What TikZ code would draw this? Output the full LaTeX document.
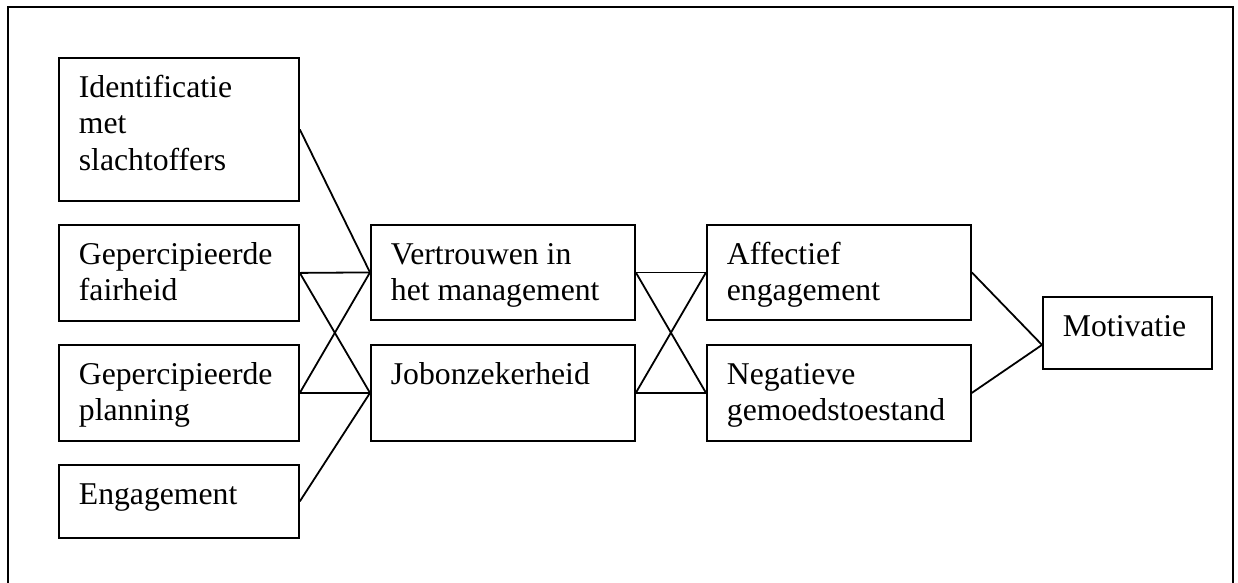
\documentclass[tikz,border=0pt]{standalone}
\usepackage{fontspec}
\setmainfont{Liberation Serif}
\begin{document}
\begin{tikzpicture}[x=1pt,y=-1pt,
  line width=1.8pt,
  box/.style={draw, rectangle, anchor=north west, inner sep=0pt, line width=1.8pt},
  lbl/.style={anchor=base west, inner sep=0pt, font=\fontsize{31.7}{36.5}\selectfont},
  conn/.style={draw, line width=1.8pt}]
\useasboundingbox (0,0) rectangle (1238,582);
\fill[white] (0,0) rectangle (1238,582);
% outer frame
\draw (8,600) -- (8,7) -- (1233,7) -- (1233,600);
% boxes: name, x1,y1,x2,y2
\newcommand{\mkbox}[6]{%
  \node[box, minimum width=#4-#2, minimum height=#5-#3] (#1) at (#2,#3) {};
  \node[lbl] (#1-t) at (#2+20,#3+40) {\begin{tabular}[t]{@{}l@{}}#6\end{tabular}};}
\mkbox{ident}{58}{57}{298}{200}{Identificatie\\met\\slachtoffers}
\mkbox{fair}{58}{224}{298}{320}{Gepercipieerde\\fairheid}
\mkbox{plan}{58}{344}{298}{440}{Gepercipieerde\\planning}
\mkbox{eng}{58}{464}{298}{537}{Engagement}
\mkbox{vert}{370}{224}{634}{319}{Vertrouwen in\\het management}
\mkbox{job}{370}{344}{634}{440}{Jobonzekerheid}
\mkbox{aff}{706}{224}{970}{319}{Affectief\\engagement}
\mkbox{neg}{706}{344}{970}{440}{Negatieve\\gemoedstoestand}
\mkbox{mot}{1042}{296}{1211}{368}{Motivatie}
\coordinate (motin) at ([yshift=-12pt]mot.west);
% connectors
\draw[conn] (ident.east) -- (vert.west);
\draw[conn] (fair.east) -- (vert.west);
\draw[conn] (fair.east) -- (job.west);
\draw[conn] (plan.east) -- (vert.west);
\draw[conn] (plan.east) -- (job.west);
\draw[conn] (eng.east) -- (job.west);
\draw[conn] (vert.east) -- (aff.west);
\draw[conn] (vert.east) -- (neg.west);
\draw[conn] (job.east) -- (aff.west);
\draw[conn] (job.east) -- (neg.west);
\draw[conn] (aff.east) -- (motin);
\draw[conn] (neg.east) -- (motin);
\end{tikzpicture}
\end{document}
